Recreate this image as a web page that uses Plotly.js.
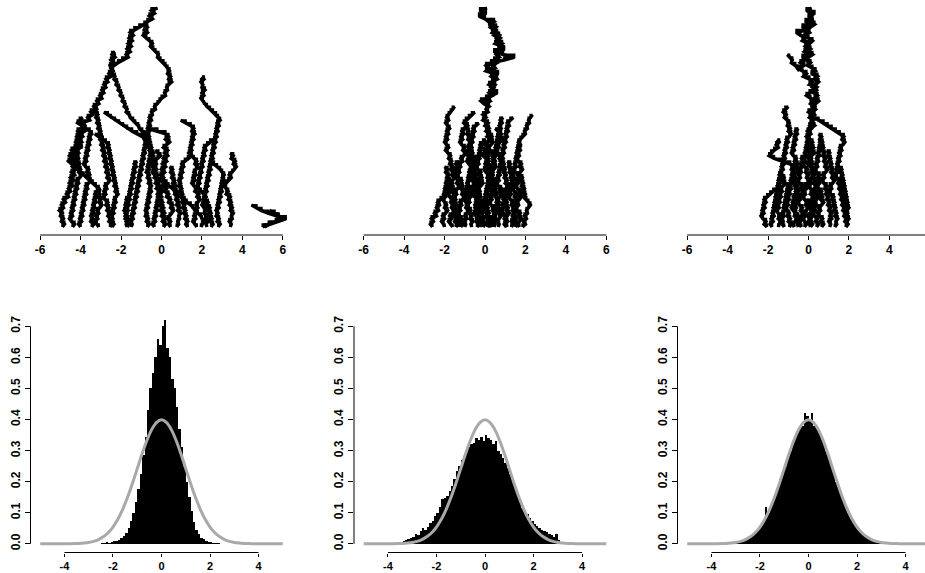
<!DOCTYPE html>
<html>
<head>
<meta charset="utf-8">
<script src="https://cdn.plot.ly/plotly-3.0.1.min.js"></script>
<style>html,body{margin:0;padding:0;background:#fff;}#chart{width:925px;height:573px;}</style>
</head>
<body>
<div id="chart"></div>
<script>
// ---------- time steps of the walks (0 = bottom, 80 = top) ----------
const steps = [0,1,2,3,4,5,6,7,8,9,10,11,12,13,14,15,16,17,18,19,20,21,22,23,24,25,26,27,28,29,30,31,32,33,34,35,36,37,38,39,40,
 41,42,43,44,45,46,47,48,49,50,51,52,53,54,55,56,57,58,59,60,61,62,63,64,65,66,67,68,69,70,71,72,73,74,75,76,77,78,79,80];

// ---------- panel 1 walks: top step of each path, x values from that step downwards ----------
const walk1Tops = [80,74,64,58,42,36,28,18,12,55,39,32,26,27,24,8,6,44,40,34,30,14,24,36,22];
const walk1Paths = [
 [-0.2,-0.5,-0.35,-0.6,-0.45,-0.7,-0.85,-1.1,-1.35,-1.55, -1.4,-1.6,-1.45,-1.65,-1.5,-1.7,-1.55,-1.75,-1.65,-1.95,
  -2.15,-2.35,-2.5,-2.4,-2.6,-2.5,-2.75,-2.65,-2.85,-2.75, -2.95,-2.85,-3.05,-2.95,-3.2,-3.1,-3.35,-3.25,-3.5,-3.4,
  -3.65,-3.55,-3.95,-3.8,-3.95,-3.8,-4.05,-3.9,-4.1,-3.95, -4.15,-4.0,-4.25,-4.1,-4.3,-4.15,-4.35,-4.2,-4.4,-4.25,
  -4.45,-4.3,-4.5,-4.35,-4.55,-4.4,-4.6,-4.5,-4.7,-4.6, -4.85,-4.75,-4.95,-4.85,-5.05,-4.9,-5.0,-4.85,-4.95,-4.8, -4.9],
 [-0.85,-0.7,-0.85,-0.7,-0.9,-0.75,-0.6,-0.45,-0.55,-0.4, -0.3,-0.15,-0.2,-0.05,0.1,0.2,0.3,0.4,0.3,0.45,
  0.35,0.5,0.35,0.25,0.3,0.15,0.2,0.0,-0.1,-0.2, -0.35,-0.3,-0.5,-0.45,-0.6,-0.5,-0.65,-0.55,-0.7,-0.6,
  -0.75,-0.6,-0.7,-0.55,-0.65,-0.5,-0.6,-0.45,-0.6,-0.5, -0.65,-0.55,-0.7,-0.6,-0.75,-0.6,-0.7,-0.55,-0.65,-0.5,
  -0.6,-0.5,-0.65,-0.55,-0.7,-0.6,-0.75,-0.65,-0.8,-0.7, -0.8,-0.65,-0.75,-0.6,-0.7],
 [-2.3,-2.45,-2.3,-2.5,-2.35,-2.55,-2.5],
 [-2.5,-2.4,-2.45,-2.3,-2.35,-2.2,-2.25,-2.1,-2.15,-2.0, -2.05,-1.9,-1.95,-1.8,-1.85,-1.7,-1.75,-1.6,-1.55,-1.4,
  -1.3,-1.15,-1.1,-0.95,-0.85,-0.75,-0.85,-0.7,-0.85,-0.75, -0.9,-0.8,-0.95,-0.85,-1.0,-0.9,-1.05,-0.95,-1.1,-1.0,
  -1.15,-1.05,-1.2,-1.1,-1.25,-1.15,-1.3,-1.2,-1.35,-1.25, -1.4,-1.3,-1.45,-1.35,-1.5,-1.4,-1.55,-1.45,-1.5],
 [-2.85,-2.65,-2.5,-2.3,-2.1,-1.9,-1.7,-1.45,-1.2,-0.95, -0.8,-0.6,-0.7,-0.5,-0.6,-0.4,-0.55,-0.35,-0.5,-0.3,
  -0.45,-0.25,-0.4,-0.2,-0.35,-0.15,-0.3,-0.1,-0.25,-0.05, -0.2,0.0,-0.15,0.05,-0.1,0.1,-0.05,0.15,0.0,0.2, 0.05,0.2,0.1],
 [-0.7,-0.2,0.2,0.35,0.2,0.4,0.25,0.1,0.3,0.15, 0.3,0.1,0.25,0.05,0.2,0.0,0.15,-0.05,0.1,-0.05,
  0.15,0.05,0.25,0.15,0.35,0.25,0.45,0.35,0.55,0.45, 0.6,0.5,0.4,0.3,0.45,0.35,0.45],
 [-0.3,-0.15,-0.05,-0.2,-0.35,-0.25,-0.4,-0.3,-0.45,-0.35, -0.2,-0.1,-0.25,-0.15,-0.05,0.05,-0.1,-0.2,-0.1,-0.25,
  -0.15,-0.3,-0.2,-0.35,-0.25,-0.4,-0.3,-0.45,-0.35],
 [0.0,0.1,0.25,0.35,0.55,0.65,0.85,0.95,1.15,1.25,1.45,1.55,1.7,1.8,1.95,2.0,2.1,2.0,1.95],
 [-1.5,-1.6,-1.75,-1.65,-1.8,-1.7,-1.85,-1.7,-1.8,-1.65,-1.75,-1.6,-1.7],
 [2.0,2.1,1.95,2.05,2.0,2.15,2.0,2.1,1.95,2.05, 2.1,2.25,2.4,2.55,2.7,2.8,2.9,2.75,2.85,2.7,
  2.8,2.65,2.75,2.6,2.7,2.55,2.65,2.5,2.6,2.45, 2.55,2.4,2.5,2.35,2.45,2.3,2.4,2.25,2.35,2.2,
  2.3,2.15,2.25,2.1,2.2,2.05,2.15,2.0,2.1,2.2, 2.1,2.25,2.15,2.3,2.2,2.25],
 [0.95,1.2,1.45,1.6,1.5,1.65,1.5,1.6,1.45,1.55, 1.4,1.5,1.35,1.5,1.6,1.75,1.65,1.8,1.7,1.6,
  1.7,1.55,1.65,1.5,1.6,1.75,1.65,1.85,1.75,1.9, 1.8,1.7,1.8,1.65,1.75,1.6,1.7,1.55,1.65,1.75],
 [2.6,2.4,2.25,2.1,2.2,2.05,2.15,2.0,2.1,1.95, 2.05,1.9,2.0,1.85,1.95,1.8,1.9,1.75,1.85,1.95,
  2.05,2.2,2.1,2.3,2.2,2.4,2.3,2.45,2.35,2.5, 2.4,2.55,2.45],
 [1.5,1.3,1.15,1.0,1.1,0.95,1.05,0.9,1.0,0.85, 0.95,0.85,1.0,0.9,1.05,0.95,1.1,1.0,1.15,1.05, 1.2,1.1,1.25,1.15,1.3,1.2,1.3],
 [3.4,3.55,3.45,3.65,3.55,3.7,3.6,3.5,3.35,3.45, 3.3,3.2,3.1,3.2,3.3,3.2,3.4,3.3,3.45,3.35, 3.5,3.4,3.55,3.45,3.5,3.35,3.45,3.4],
 [2.4,2.6,2.75,2.9,3.0,3.1,3.0,3.1,2.95,3.05, 2.9,3.0,2.85,2.95,2.8,2.9,2.75,2.85,2.7,2.8, 2.7,2.85,2.75,2.9,2.8],
 [4.45,4.7,4.95,5.3,5.7,6.15,5.75,5.35,5.0],
 [5.35,5.6,5.8,6.05,5.65,5.3,5.1],
 [-3.35,-3.2,-3.3,-3.15,-3.25,-3.1,-3.2,-3.05,-3.15,-3.0, -3.1,-2.95,-3.05,-2.9,-3.0,-2.85,-2.95,-2.8,-2.9,-2.75,
  -2.85,-2.7,-2.8,-2.65,-2.75,-2.6,-2.7,-2.55,-2.65,-2.8, -2.7,-2.85,-2.75,-2.9,-2.8,-2.65,-2.75,-2.6,-2.7,-2.55,
  -2.65,-2.5,-2.6,-2.45,-2.55],
 [-3.9,-4.05,-4.15,-3.95,-3.75,-3.55,-3.45,-3.6,-3.5,-3.65, -3.55,-3.7,-3.6,-3.75,-3.65,-3.8,-3.7,-3.85,-3.75,-3.6,
  -3.7,-3.55,-3.65,-3.5,-3.6,-3.75,-3.65,-3.8,-3.7,-3.85, -3.75,-3.9,-3.8,-3.95,-3.85,-4.0,-3.9,-4.05,-3.95,-4.1, -4.0],
 [-3.3,-3.1,-2.9,-2.75,-2.6,-2.7,-2.55,-2.65,-2.5,-2.6, -2.45,-2.55,-2.4,-2.5,-2.35,-2.45,-2.3,-2.4,-2.25,-2.35,
  -2.2,-2.3,-2.15,-2.25,-2.35,-2.25,-2.4,-2.3,-2.45,-2.35, -2.5,-2.4,-2.5,-2.35,-2.45],
 [-3.9,-4.2,-4.45,-4.35,-4.55,-4.4,-4.6,-4.45,-4.3,-4.15, -4.0,-3.85,-3.7,-3.55,-3.4,-3.25,-3.1,-3.2,-3.05,-3.15,
  -3.0,-3.1,-2.95,-3.05,-3.2,-3.1,-3.25,-3.15,-3.3,-3.2, -3.1],
 [-3.0,-3.15,-3.3,-3.2,-3.35,-3.25,-3.4,-3.3,-3.45,-3.35,-3.5,-3.4,-3.5,-3.35,-3.45],
 [-1.2,-1.35,-1.25,-1.4,-1.3,-1.45,-1.35,-1.5,-1.4,-1.55, -1.45,-1.6,-1.5,-1.65,-1.55,-1.7,-1.6,-1.75,-1.65,-1.8, -1.7,-1.8,-1.65,-1.75,-1.7],
 [-4.0,-4.15,-4.05,-4.2,-4.1,-4.25,-4.15,-4.3,-4.2,-4.35, -4.25,-4.1,-4.2,-4.05,-4.15,-4.0,-4.1,-3.95,-4.05,-4.2,
  -4.1,-4.25,-4.15,-4.3,-4.2,-4.35,-4.25,-4.4,-4.3,-4.45, -4.35,-4.5,-4.4,-4.55,-4.45,-4.3,-4.4],
 [0.4,0.55,0.45,0.6,0.5,0.65,0.55,0.7,0.6,0.75,0.65,0.8,0.7,0.85,0.75,0.9,0.8,0.95,0.85,0.9,0.8,0.85,0.75]
];

// ---------- panel 2 walks ----------
const walk2Tops = [80,76,44,42,41,40,38,36,32,28,24,20,12,18,24,30,34,26,16,14,40,38,30,22];
const walk2Paths = [
 [0.1,-0.25,0.05,-0.3,0.0,0.2,0.35,0.25,0.45,0.35, 0.7,0.55,0.65,0.5,0.85,0.7,0.45,0.9,1.45,0.95,
  0.3,0.05,0.2,0.05,0.45,0.3,0.55,0.35,0.2,0.45, 0.35,0.6,0.3,0.05,-0.2,-0.05,0.2,0.05,0.15,-0.1,
  0.05,-0.1,0.15,0.0,0.2,0.05,0.25,0.1,0.3,0.15, 0.0,0.15,-0.05,0.1,-0.1,0.05,0.2,0.1,0.25,0.15,
  0.3,0.2,0.35,0.25,0.1,0.2,0.05,0.15,0.0,0.1, -0.05,0.1,-0.05,0.15,0.0,0.2,0.05,0.25,0.1,0.2, 0.1],
 [0.25,0.45,0.2,0.55,0.4,0.6,0.45,0.75,0.6,0.85, 0.65,0.95,0.75,0.55,0.7,0.45,0.6,0.35,0.5,0.25,
  0.65,0.45,0.6,0.35,0.5,0.3,0.45,0.2,0.35,0.1, 0.25,0.0,0.15],
 [-1.5,-1.6,-1.7,-1.8,-1.9,-1.8,-1.95,-1.85,-1.75,-1.9, -1.8,-1.95,-1.85,-2.0,-1.9,-1.8,-1.95,-1.85,-1.7,-1.8,
  -1.65,-1.75,-1.6,-1.7,-1.55,-1.65,-1.5,-1.6,-1.75,-1.65, -1.8,-1.7,-1.85,-1.75,-1.6,-1.7,-1.55,-1.65,-1.5,-1.6,
  -1.75,-1.65,-1.8,-1.7,-1.6],
 [-0.5,-0.65,-0.8,-0.95,-1.05,-0.9,-1.0,-1.15,-1.05,-1.2, -1.1,-1.25,-1.15,-1.0,-1.1,-0.95,-1.05,-1.2,-1.1,-1.3,
  -1.2,-1.35,-1.25,-1.4,-1.3,-1.15,-1.25,-1.1,-1.2,-1.05, -1.15,-1.0,-1.1,-1.25,-1.15,-1.3,-1.2,-1.35,-1.25,-1.15,
  -1.25,-1.1,-1.2],
 [2.35,2.25,2.15,2.2,2.05,2.1,1.95,2.0,1.85,1.75, 1.65,1.75,1.6,1.7,1.55,1.65,1.5,1.6,1.45,1.55,
  1.4,1.5,1.35,1.45,1.3,1.4,1.25,1.35,1.45,1.55, 1.45,1.6,1.5,1.65,1.55,1.4,1.5,1.35,1.45,1.3, 1.4,1.3],
 [1.4,1.25,1.1,1.2,1.05,1.15,1.0,1.1,0.95,1.05, 0.9,1.0,0.85,0.95,0.8,0.9,0.75,0.85,0.7,0.8,
  0.65,0.75,0.6,0.7,0.55,0.65,0.8,0.7,0.85,0.75, 0.6,0.7,0.55,0.65,0.5,0.6,0.45,0.55,0.4,0.5, 0.45],
 [-0.3,-0.45,-0.6,-0.5,-0.65,-0.55,-0.7,-0.6,-0.75,-0.65, -0.8,-0.7,-0.85,-0.75,-0.9,-0.8,-0.65,-0.75,-0.6,-0.7,
  -0.55,-0.65,-0.5,-0.6,-0.75,-0.65,-0.8,-0.7,-0.85,-0.75, -0.9,-0.8,-0.7,-0.8,-0.65,-0.75,-0.6,-0.7,-0.65],
 [0.5,0.65,0.8,0.7,0.85,0.75,0.6,0.7,0.55,0.65, 0.8,0.7,0.85,0.95,0.85,1.0,0.9,1.05,0.95,1.1,
  1.0,1.15,1.05,0.9,1.0,0.85,0.95,1.1,1.0,1.15, 1.05,1.2,1.1,1.0,1.1,0.95,1.05],
 [0.05,-0.1,-0.25,-0.15,-0.3,-0.2,-0.35,-0.25,-0.4,-0.3, -0.45,-0.35,-0.2,-0.3,-0.15,-0.25,-0.1,-0.2,-0.35,-0.25,
  -0.4,-0.3,-0.45,-0.35,-0.5,-0.4,-0.3,-0.4,-0.25,-0.35, -0.2,-0.3,-0.25],
 [0.4,0.3,0.45,0.35,0.5,0.4,0.55,0.45,0.3,0.4, 0.25,0.35,0.5,0.4,0.55,0.45,0.6,0.5,0.65,0.55, 0.7,0.6,0.75,0.65,0.8,0.7,0.6,0.7,0.65],
 [-1.3,-1.45,-1.35,-1.5,-1.4,-1.55,-1.45,-1.3,-1.4,-1.25, -1.35,-1.5,-1.4,-1.55,-1.45,-1.6,-1.5,-1.65,-1.55,-1.45, -1.55,-1.4,-1.5,-1.35,-1.45],
 [1.6,1.7,1.85,1.75,1.9,1.8,1.95,1.85,2.0,1.9, 2.05,2.15,2.25,2.15,2.05,2.1,1.95,2.05,1.9,2.0, 1.85],
 [-1.9,-2.05,-2.2,-2.35,-2.25,-2.4,-2.3,-2.5,-2.4,-2.65,-2.55,-2.7,-2.6],
 [-1.7,-1.85,-1.95,-1.85,-2.0,-1.9,-2.05,-1.95,-2.1,-2.0,-1.9,-2.0,-1.85,-1.95,-2.1,-2.0,-2.15,-2.05,-2.0],
 [1.1,1.25,1.15,1.3,1.2,1.35,1.25,1.4,1.3,1.45, 1.35,1.2,1.3,1.15,1.25,1.4,1.3,1.45,1.35,1.5, 1.4,1.55,1.45,1.6,1.5],
 [-0.9,-0.75,-0.85,-0.7,-0.8,-0.65,-0.75,-0.6,-0.7,-0.55, -0.65,-0.5,-0.6,-0.45,-0.55,-0.4,-0.5,-0.35,-0.45,-0.3,
  -0.4,-0.25,-0.35,-0.5,-0.4,-0.55,-0.45,-0.35,-0.45,-0.3, -0.4],
 [0.2,0.35,0.25,0.4,0.3,0.15,0.25,0.1,0.2,0.05, 0.15,0.0,0.1,-0.05,0.05,0.2,0.1,0.25,0.15,0.3,
  0.2,0.05,0.15,0.0,0.1,-0.05,0.05,-0.1,0.0,0.15, 0.05,0.2,0.1,0.25,0.15],
 [-0.4,-0.55,-0.45,-0.6,-0.5,-0.65,-0.8,-0.7,-0.85,-0.75, -0.9,-0.8,-0.95,-0.85,-1.0,-0.9,-1.05,-0.95,-0.85,-0.95, -0.8,-0.9,-1.0,-0.9,-1.05,-0.95,-1.0],
 [1.3,1.15,1.25,1.1,1.2,1.05,0.9,1.0,0.85,0.95,0.8,0.9,1.05,0.95,1.1,1.0,1.1],
 [-0.7,-0.55,-0.65,-0.5,-0.35,-0.45,-0.3,-0.4,-0.25,-0.1,-0.2,-0.05,-0.15,0.0,-0.1],
 [0.9,0.75,0.85,0.7,0.8,0.65,0.75,0.6,0.7,0.55, 0.65,0.5,0.6,0.45,0.55,0.4,0.5,0.35,0.45,0.3,
  0.4,0.25,0.35,0.5,0.4,0.55,0.45,0.3,0.4,0.25, 0.35,0.2,0.3,0.45,0.35,0.5,0.4,0.3,0.4,0.25, 0.35],
 [-1.0,-0.85,-0.95,-0.8,-0.9,-0.75,-0.85,-0.7,-0.8,-0.65, -0.75,-0.6,-0.7,-0.55,-0.65,-0.5,-0.6,-0.45,-0.55,-0.4,
  -0.5,-0.35,-0.45,-0.3,-0.4,-0.25,-0.35,-0.2,-0.3,-0.15, -0.25,-0.1,-0.2,-0.35,-0.25,-0.4,-0.3,-0.2,-0.25],
 [1.8,1.65,1.75,1.6,1.7,1.55,1.65,1.8,1.7,1.85, 1.75,1.6,1.7,1.55,1.65,1.5,1.6,1.75,1.65,1.8, 1.7,1.55,1.65,1.5,1.6,1.75,1.65,1.8,1.7,1.6, 1.7],
 [-2.0,-1.85,-1.95,-1.8,-1.9,-1.75,-1.6,-1.7,-1.55,-1.65,-1.5,-1.6,-1.45,-1.55,-1.4,-1.5,-1.35,-1.45,-1.3,-1.4,-1.25,-1.35,-1.3]
];

// ---------- panel 3 walks ----------
const walk3Tops = [80,76,63,44,32,40,36,34,28,26,14,20,18,22,30,16,38,32,24];
const walk3Paths = [
 [0.15,-0.1,0.3,0.0,0.2,-0.15,0.1,-0.3,-0.1,-0.6, -0.4,-0.15,-0.3,0.0,-0.15,0.1,-0.05,0.2,0.0,-0.2,
  -0.4,-0.2,-0.55,-0.3,-0.1,-0.25,0.05,0.2,0.05,0.4, 0.25,0.05,-0.1,0.1,0.25,0.1,0.3,0.15,0.0,0.2,
  0.05,0.25,0.1,0.3,0.15,-0.05,0.1,-0.1,0.05,0.2, 0.05,0.25,0.1,0.3,0.15,0.0,0.15,-0.05,0.1,0.25,
  0.1,0.3,0.15,0.0,0.15,-0.05,0.1,0.25,0.1,0.3, 0.15,0.0,0.2,0.05,0.25,0.1,-0.05,0.1,0.0,0.2, 0.1],
 [0.25,0.05,0.3,0.1,-0.1,0.05,-0.2,0.0,0.2,0.05, -0.15,0.05,-0.2,0.0,-0.3,-0.1,0.1,-0.05,0.2,0.35,
  0.15,0.45,0.3,0.5,0.35,0.2,0.4,0.25,0.45,0.3, 0.5,0.35,0.2,0.35,0.15,0.3,0.1],
 [-1.05,-0.95,-0.8,-0.85,-0.65,-0.55,-0.45],
 [-1.0,-1.15,-1.25,-1.1,-1.2,-1.05,-0.95,-1.05,-0.9,-1.0, -0.85,-0.95,-1.1,-1.0,-1.15,-1.05,-1.2,-1.1,-1.25,-1.15,
  -1.3,-1.2,-1.35,-1.25,-1.4,-1.3,-1.2,-1.3,-1.15,-1.25, -1.4,-1.3,-1.45,-1.35,-1.5,-1.4,-1.55,-1.45,-1.6,-1.5,
  -1.4,-1.5,-1.35,-1.45,-1.5],
 [-1.55,-1.45,-1.6,-1.5,-1.7,-1.85,-1.95,-1.7,-1.3,-0.9, -0.75,-0.85,-0.7,-0.8,-0.65,-0.75,-0.6,-0.7,-0.55,-0.65,
  -0.5,-0.6,-0.45,-0.55,-0.7,-0.6,-0.75,-0.65,-0.5,-0.6, -0.45,-0.55,-0.5],
 [0.3,0.5,0.75,0.95,1.15,1.35,1.55,1.75,1.65,1.8, 1.7,1.55,1.65,1.5,1.6,1.45,1.55,1.4,1.5,1.35,
  1.45,1.3,1.4,1.55,1.45,1.6,1.5,1.65,1.55,1.7, 1.6,1.75,1.65,1.8,1.7,1.85,1.75,1.9,1.8,1.95, 1.85],
 [-0.5,-0.65,-0.55,-0.7,-0.6,-0.75,-0.65,-0.8,-0.7,-0.85, -0.75,-0.6,-0.7,-0.55,-0.65,-0.8,-0.7,-0.85,-0.75,-0.9,
  -0.8,-0.95,-0.85,-1.0,-0.9,-1.05,-0.95,-1.1,-1.0,-1.15, -1.05,-0.95,-1.05,-0.9,-1.0,-0.85,-0.95],
 [0.5,0.65,0.55,0.7,0.6,0.75,0.65,0.8,0.7,0.85, 0.75,0.9,0.8,0.95,0.85,0.7,0.8,0.65,0.75,0.9,
  0.8,0.95,0.85,1.0,0.9,1.05,0.95,1.1,1.0,1.15, 1.05,1.15,1.0,1.1,1.05],
 [0.9,1.05,0.95,1.1,1.0,1.15,1.05,1.2,1.1,1.25, 1.15,1.3,1.2,1.05,1.15,1.0,1.1,1.25,1.15,1.3, 1.2,1.35,1.25,1.4,1.3,1.45,1.35,1.4,1.3],
 [-0.2,-0.35,-0.25,-0.4,-0.3,-0.45,-0.35,-0.5,-0.4,-0.55, -0.45,-0.3,-0.4,-0.25,-0.35,-0.5,-0.4,-0.55,-0.45,-0.3, -0.4,-0.25,-0.35,-0.5,-0.4,-0.45,-0.35],
 [-1.6,-1.75,-1.9,-2.05,-2.2,-2.1,-2.25,-2.15,-2.3,-2.2,-2.35,-2.25,-2.1,-2.2,-2.05],
 [-1.3,-1.45,-1.35,-1.5,-1.4,-1.55,-1.45,-1.6,-1.5,-1.65, -1.55,-1.7,-1.6,-1.75,-1.65,-1.8,-1.7,-1.85,-1.75,-1.9, -1.8],
 [0.6,0.45,0.55,0.4,0.5,0.65,0.55,0.7,0.6,0.75,0.65,0.5,0.6,0.45,0.55,0.7,0.6,0.75,0.65],
 [1.5,1.65,1.55,1.7,1.6,1.75,1.65,1.8,1.7,1.85,1.75,1.9,1.8,1.95,1.85,2.0,1.9,1.95,1.85,2.0,1.9,1.95,1.85],
 [-0.1,0.05,-0.05,0.1,0.0,0.15,0.05,0.2,0.1,0.25, 0.15,0.3,0.2,0.35,0.25,0.4,0.3,0.45,0.35,0.5, 0.4,0.3,0.4,0.25,0.35,0.2,0.3,0.45,0.35,0.5, 0.4],
 [-0.9,-1.05,-0.95,-1.1,-1.0,-1.15,-1.05,-1.2,-1.1,-1.25,-1.15,-1.3,-1.2,-1.35,-1.25,-1.3,-1.2],
 [0.2,0.05,0.15,0.0,0.1,-0.05,0.05,-0.1,0.0,-0.15, -0.05,-0.2,-0.1,-0.25,-0.15,-0.3,-0.2,-0.05,-0.15,0.0,
  -0.1,0.05,-0.05,-0.2,-0.1,-0.25,-0.15,-0.3,-0.2,-0.05, -0.15,0.0,-0.1,-0.25,-0.15,-0.3,-0.2,-0.1,-0.2],
 [0.7,0.55,0.65,0.5,0.6,0.45,0.55,0.4,0.5,0.35, 0.45,0.3,0.4,0.55,0.45,0.6,0.5,0.35,0.45,0.3,
  0.4,0.25,0.35,0.2,0.3,0.15,0.25,0.1,0.2,0.05, 0.15,0.05,0.1],
 [-0.7,-0.55,-0.65,-0.5,-0.6,-0.75,-0.65,-0.8,-0.7,-0.55, -0.65,-0.5,-0.6,-0.75,-0.65,-0.8,-0.7,-0.85,-0.75,-0.6, -0.7,-0.55,-0.65,-0.8,-0.7]
];

// ---------- histograms (bin centres, bin width 0.1, density) ----------
const hist1Centers = [-2.45,-2.35,-2.25,-2.15,-2.05,-1.95,-1.85,-1.75,-1.65,-1.55,-1.45,-1.35,-1.25,-1.15,-1.05,-0.95,-0.85,-0.75,-0.65,-0.55,-0.45,-0.35,-0.25,-0.15,-0.05,0.05,0.15,0.25,0.35,0.45,0.55,0.65,0.75,0.85,0.95,1.05,1.15,1.25,1.35,1.45,1.55,1.65,1.75,1.85,1.95,2.05,2.15,2.25,2.35];
const hist1Density = [0.003,0.003,0.005,0.004,0.006,0.008,0.010,0.013,0.018,0.025,0.036,0.052,0.075,0.100,0.135,0.175,0.225,0.285,0.345,0.43,0.50,0.55,0.60,0.66,0.64,0.70,0.72,0.63,0.60,0.53,0.50,0.44,0.37,0.31,0.25,0.20,0.15,0.105,0.07,0.045,0.030,0.020,0.014,0.010,0.007,0.005,0.004,0.003,0.002];

const hist2Centers = [-3.95,-3.85,-3.75,-3.65,-3.55,-3.45,-3.35,-3.25,-3.15,-3.05,-2.95,-2.85,-2.75,-2.65,-2.55,-2.45,-2.35,-2.25,-2.15,-2.05,-1.95,-1.85,-1.75,-1.65,-1.55,-1.45,-1.35,-1.25,-1.15,-1.05,-0.95,-0.85,-0.75,-0.65,-0.55,-0.45,-0.35,-0.25,-0.15,-0.05,0.05,0.15,0.25,0.35,0.45,0.55,0.65,0.75,0.85,0.95,1.05,1.15,1.25,1.35,1.45,1.55,1.65,1.75,1.85,1.95,2.05,2.15,2.25,2.35,2.45,2.55,2.65,2.75,2.85,2.95,3.05,3.15,3.25,3.35];
const hist2Density = [0.004,0.002,0.003,0.004,0.006,0.005,0.010,0.012,0.015,0.018,0.022,0.030,0.028,0.040,0.050,0.045,0.055,0.068,0.075,0.090,0.100,0.118,0.145,0.148,0.155,0.170,0.185,0.21,0.235,0.25,0.27,0.275,0.30,0.31,0.32,0.325,0.34,0.335,0.345,0.33,0.35,0.34,0.335,0.32,0.33,0.30,0.29,0.275,0.26,0.245,0.225,0.205,0.18,0.16,0.135,0.115,0.105,0.095,0.082,0.075,0.065,0.058,0.050,0.045,0.040,0.038,0.033,0.028,0.022,0.030,0.012,0.006,0.004,0.002];

const hist3Centers = [-3.25,-3.15,-3.05,-2.95,-2.85,-2.75,-2.65,-2.55,-2.45,-2.35,-2.25,-2.15,-2.05,-1.95,-1.85,-1.75,-1.65,-1.55,-1.45,-1.35,-1.25,-1.15,-1.05,-0.95,-0.85,-0.75,-0.65,-0.55,-0.45,-0.35,-0.25,-0.15,-0.05,0.05,0.15,0.25,0.35,0.45,0.55,0.65,0.75,0.85,0.95,1.05,1.15,1.25,1.35,1.45,1.55,1.65,1.75,1.85,1.95,2.05,2.15,2.25,2.35,2.45,2.55,2.65,2.75,2.85,2.95,3.05,3.15,3.25];
const hist3Density = [0.002,0.002,0.003,0.004,0.006,0.009,0.011,0.016,0.019,0.026,0.031,0.042,0.052,0.058,0.075,0.120,0.100,0.125,0.145,0.160,0.180,0.210,0.235,0.250,0.280,0.300,0.320,0.345,0.360,0.375,0.380,0.420,0.410,0.395,0.420,0.380,0.370,0.360,0.340,0.325,0.300,0.280,0.255,0.235,0.200,0.185,0.160,0.140,0.120,0.100,0.090,0.072,0.060,0.050,0.040,0.032,0.025,0.019,0.016,0.011,0.008,0.007,0.005,0.003,0.002,0.002];

// ---------- grey reference density curve ----------
const curveX = [-5,-4.8,-4.6,-4.4,-4.2,-4,-3.8,-3.6,-3.4,-3.2,-3,-2.8,-2.6,-2.4,-2.2,-2,-1.8,-1.6,-1.4,-1.2,-1,-0.8,-0.6,-0.4,-0.2,0,0.2,0.4,0.6,0.8,1,1.2,1.4,1.6,1.8,2,2.2,2.4,2.6,2.8,3,3.2,3.4,3.6,3.8,4,4.2,4.4,4.6,4.8,5];
const curveY = [0,0,0,0,0,0.0001,0.0003,0.0006,0.0012,0.0024,0.0044,0.0079,0.0136,0.0224,0.0355,0.054,0.079,0.1109,0.1497,0.1942,0.242,0.2897,0.3332,0.3683,0.391,0.3989,0.391,0.3683,0.3332,0.2897,0.242,0.1942,0.1497,0.1109,0.079,0.054,0.0355,0.0224,0.0136,0.0079,0.0044,0.0024,0.0012,0.0006,0.0003,0.0001,0,0,0,0,0];

// ---------- axis tick labels ----------
const topTicks = [-6,-4,-2,0,2,4,6];
const topLabels = ['-6','-4','-2','0','2','4','6'];
const botTicks = [-4,-2,0,2,4];
const botLabels = ['-4','-2','0','2','4'];
const densTicks = [0,0.1,0.2,0.3,0.4,0.5,0.6,0.7];
const densLabels = ['0.0','0.1','0.2','0.3','0.4','0.5','0.6','0.7'];

// ---------- geometry ----------
const W = 925, H = 573;
const colLeft = [30.5, 354, 677.5];
const colWidth = 262;
const topXRange = [-6.48, 6.48];
const botXRange = [-5.4, 5.4];
const topYDom = [1 - 235/H, 1];
const topYRange = [-2.922, 82.922];
const botYDom = [(H - 552.5)/H, (H - 317.6)/H];
const botYRange = [-0.028, 0.728];

function colDomainRange(i, range) {
  const left = colLeft[i], right = colLeft[i] + colWidth;
  const r = Math.min(right, W);
  const span = range[1] - range[0];
  const rEnd = range[0] + span * (r - left) / colWidth;
  return {domain: [left / W, r / W], range: [range[0], rEnd]};
}

function walkXY(paths, tops) {
  const x = [], y = [];
  paths.forEach((p, i) => {
    p.forEach((v, j) => { x.push(v); y.push(steps[tops[i] - j]); });
    x.push(null); y.push(null);
  });
  return {x: x, y: y};
}
function walkTraces(paths, tops, xa, ya) {
  const xy = walkXY(paths, tops);
  return [
    {type: 'scatter', mode: 'lines', x: xy.x, y: xy.y, xaxis: xa, yaxis: ya,
     line: {color: '#000', width: 3.4}, hoverinfo: 'skip', showlegend: false},
    {type: 'scatter', mode: 'lines', x: xy.x, y: xy.y, xaxis: xa, yaxis: ya,
     line: {color: '#000', width: 2.2, shape: 'hv'}, hoverinfo: 'skip', showlegend: false}
  ];
}
function histTrace(cx, d, xa, ya) {
  return {type: 'bar', x: cx, y: d, width: 0.1, xaxis: xa, yaxis: ya,
          marker: {color: '#000', line: {width: 0}}, hoverinfo: 'skip', showlegend: false};
}
function curveTrace(xa, ya) {
  return {type: 'scatter', mode: 'lines', x: curveX, y: curveY, xaxis: xa, yaxis: ya,
          line: {color: '#a9a9a9', width: 3, shape: 'spline'}, hoverinfo: 'skip', showlegend: false};
}

const data = [].concat(
  walkTraces(walk1Paths, walk1Tops, 'x', 'y'),
  walkTraces(walk2Paths, walk2Tops, 'x2', 'y2'),
  walkTraces(walk3Paths, walk3Tops, 'x3', 'y3'),
  [histTrace(hist1Centers, hist1Density, 'x4', 'y4'), curveTrace('x4', 'y4'),
   histTrace(hist2Centers, hist2Density, 'x5', 'y5'), curveTrace('x5', 'y5'),
   histTrace(hist3Centers, hist3Density, 'x6', 'y6'), curveTrace('x6', 'y6')]
);

const tickFont = {family: 'Liberation Sans, Arial, sans-serif', size: 12, color: '#000', weight: 'bold'};
const botTickFont = {family: 'Liberation Sans, Arial, sans-serif', size: 11, color: '#000', weight: 'bold'};
function xAxis(i, range, ticks, labels, anchor, font, tlen) {
  const dr = colDomainRange(i, range);
  return {domain: dr.domain, range: dr.range, anchor: anchor, tickvals: ticks, ticktext: labels,
          ticks: 'outside', ticklen: tlen, tickwidth: 1, tickcolor: '#000',
          showline: false, showgrid: false, zeroline: false, tickfont: font, fixedrange: true};
}
const layout = {
  width: W, height: H, margin: {l: 0, r: 0, t: 0, b: 0},
  paper_bgcolor: '#fff', plot_bgcolor: 'rgba(0,0,0,0)', showlegend: false, bargap: 0,
  font: tickFont,
  xaxis:  xAxis(0, topXRange, topTicks, topLabels, 'y', tickFont, 4),
  xaxis2: xAxis(1, topXRange, topTicks, topLabels, 'y2', tickFont, 4),
  xaxis3: xAxis(2, topXRange, topTicks, topLabels, 'y3', tickFont, 4),
  xaxis4: xAxis(0, botXRange, botTicks, botLabels, 'y4', botTickFont, 3),
  xaxis5: xAxis(1, botXRange, botTicks, botLabels, 'y5', botTickFont, 3),
  xaxis6: xAxis(2, botXRange, botTicks, botLabels, 'y6', botTickFont, 3),
  shapes: []
};
['yaxis','yaxis2','yaxis3'].forEach((k, i) => {
  layout[k] = {domain: topYDom, range: topYRange, anchor: ['x','x2','x3'][i], visible: false, fixedrange: true};
});
['yaxis4','yaxis5','yaxis6'].forEach((k, i) => {
  layout[k] = {domain: botYDom, range: botYRange, anchor: ['x4','x5','x6'][i],
    tickvals: densTicks, ticktext: densLabels, tickangle: -90,
    ticks: 'outside', ticklen: 5, tickwidth: 1, tickcolor: '#000',
    showline: false, showgrid: false, zeroline: false, tickfont: tickFont, fixedrange: true};
});

// R-style axis lines: from first to last tick
function paperPos(ax, v) { return ax.domain[0] + (v - ax.range[0]) / (ax.range[1] - ax.range[0]) * (ax.domain[1] - ax.domain[0]); }
[['xaxis','yaxis',topTicks],['xaxis2','yaxis2',topTicks],['xaxis3','yaxis3',topTicks],
 ['xaxis4','yaxis4',botTicks],['xaxis5','yaxis5',botTicks],['xaxis6','yaxis6',botTicks]].forEach(([xk, yk, t]) => {
  const xa = layout[xk], ya = layout[yk];
  const x1 = Math.min(paperPos(xa, t[t.length - 1]), 1);
  layout.shapes.push({type: 'line', xref: 'paper', yref: 'paper', x0: paperPos(xa, t[0]), x1: x1,
    y0: ya.domain[0], y1: ya.domain[0], line: {color: '#000', width: 1}});
});
[['xaxis4','yaxis4'],['xaxis5','yaxis5'],['xaxis6','yaxis6']].forEach(([xk, yk]) => {
  const xa = layout[xk], ya = layout[yk];
  layout.shapes.push({type: 'line', xref: 'paper', yref: 'paper', x0: xa.domain[0], x1: xa.domain[0],
    y0: paperPos(ya, densTicks[0]), y1: paperPos(ya, densTicks[densTicks.length - 1]), line: {color: '#000', width: 1}});
});

Plotly.newPlot('chart', data, layout, {displayModeBar: false, staticPlot: true});
</script>
</body>
</html>
